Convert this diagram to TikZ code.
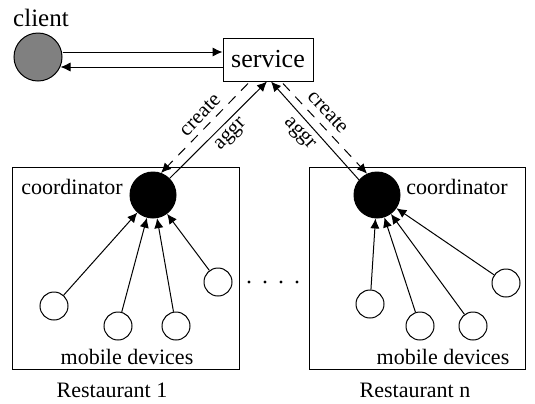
\documentclass[tikz,border=0pt]{standalone}
\usepackage{fontspec}
\setmainfont{Liberation Serif}
\usetikzlibrary{arrows.meta, calc}

\begin{document}
\begin{tikzpicture}[x=0.5pt, y=-0.5pt, >={Latex[length=5pt,width=4.6pt]}, line width=0.5pt,
    client node/.style={circle, draw, fill=gray, minimum size=24pt, inner sep=0pt},
    coord node/.style={circle, draw, fill=black, minimum size=23pt, inner sep=0pt},
    device node/.style={circle, draw, fill=white, minimum size=14pt, inner sep=0pt},
    service node/.style={rectangle, draw, minimum width=45pt, minimum height=21.5pt, inner sep=0pt, font=\fontsize{13}{15}\selectfont},
    txt/.style={inner sep=0pt, font=\fontsize{11}{13}\selectfont},
    lbl/.style={inner sep=0pt, font=\fontsize{10.5}{12}\selectfont}]
        \useasboundingbox (0,0) rectangle (535,403);

        % Nodes
        \node[client node] (client) at (38,57) {};
        \node[txt, font=\fontsize{12.5}{15}\selectfont] (clientlabel) at (41,18) {client};
        \node[service node] (service) at (268,59.5) {service};

        % Restaurants
        \draw (12,167) rectangle (239,369);
        \draw (309,167) rectangle (525,369);

        \node[coord node] (c1) at (153,195) {};
        \node[coord node] (c2) at (377,195) {};
        \node[txt] (c1label) at (72,187) {coordinator};
        \node[txt] (c2label) at (457,187) {coordinator};

        \node[device node] (a1) at (54,306) {};
        \node[device node] (a2) at (118,326) {};
        \node[device node] (a3) at (176,326) {};
        \node[device node] (a4) at (218,282) {};
        \node[device node] (b1) at (370,304) {};
        \node[device node] (b2) at (420,326) {};
        \node[device node] (b3) at (473,326) {};
        \node[device node] (b4) at (506,283) {};

        \node[txt] (m1) at (127,357) {mobile devices};
        \node[txt] (m2) at (443,357) {mobile devices};
        \node[txt] (r1) at (112,390) {Restaurant 1};
        \node[txt] (r2) at (415,390) {Restaurant n};

        \foreach \x in {249,265,281,297}
            \fill (\x,282) circle (1.6);

        % Arrows client <-> service
        \draw[->] ($(client.east)+(0,-5)$) -- ($(service.west)+(0,-7.5)$);
        \draw[->] ($(service.west)+(0,7.5)$) -- ($(client.east)+(-2,10)$);

        % Arrows service <-> coordinators
        \draw[->, dash pattern=on 5pt off 4pt] ($(service.south)+(-20,2)$) -- (c1.70);
        \draw[->] (c1.45) -- ($(service.south)+(-1,0)$);
        \draw[->, dash pattern=on 5pt off 4pt] ($(service.south)+(15,2)$) -- (c2.115);
        \draw[->] (c2.140) -- ($(service.south)+(3,0)$);

        \node[lbl, rotate=46] (create1) at (200,115) {create};
        \node[lbl, rotate=46] (aggr1) at (231,135) {aggr};
        \node[lbl, rotate=-47] (create2) at (328,112) {create};
        \node[lbl, rotate=-47] (aggr2) at (299,134) {aggr};

        % Arrows devices -> coordinators
        \foreach \d in {a1,a2,a3,a4}
            \draw[->] (\d) -- (c1);
        \foreach \d in {b1,b2,b3,b4}
            \draw[->] (\d) -- (c2);
    \end{tikzpicture}
\end{document}
